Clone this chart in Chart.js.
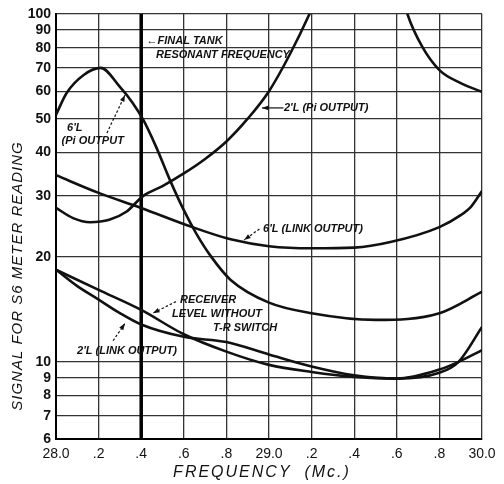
<!DOCTYPE html>
<html>
<head>
<meta charset="utf-8">
<script src="https://cdn.jsdelivr.net/npm/chart.js@4"></script>
<style>
  html, body { margin: 0; padding: 0; background: #fff; }
</style>
</head>
<body>
<canvas id="chart" width="504" height="484"></canvas>
<script>
// --- axis ticks ---
const freqTicks = [28.0, 28.2, 28.4, 28.6, 28.8, 29.0, 29.2, 29.4, 29.6, 29.8, 30.0];
const freqTickLabels = ['28.0', '.2', '.4', '.6', '.8', '29.0', '.2', '.4', '.6', '.8', '30.0'];
const signalTicks = [6, 7, 8, 9, 10, 20, 30, 40, 50, 60, 70, 80, 90, 100];

// --- curves (frequency Mc., signal) ---
const pi6Freq   = [28.0, 28.05, 28.13, 28.21, 28.30, 28.36, 28.41, 28.47, 28.535, 28.60, 28.66, 28.73, 28.82, 29.0, 29.2, 29.5, 29.8, 30.0];
const pi6Signal = [51.3, 59.3, 66.8, 70.0, 61.7, 55.5, 49.6, 41.5, 33.3, 27.3, 23.3, 20.0, 17.2, 14.8, 13.8, 13.2, 13.8, 15.9];

const pi2Freq   = [28.0, 28.08, 28.16, 28.25, 28.33, 28.41, 28.5, 28.6, 28.7, 28.8, 28.9, 29.0, 29.1, 29.19, 29.24];
const pi2Signal = [27.7, 25.9, 25.2, 25.6, 27.0, 30.0, 32.0, 34.8, 38.3, 43.0, 50.0, 60.0, 77.0, 100, 118];

const pi2HighFreq   = [29.62, 29.65, 29.72, 29.80, 29.90, 30.0];
const pi2HighSignal = [118, 100, 80.4, 69.0, 63.3, 59.7];

const link6Freq   = [28.0, 28.2, 28.4, 28.64, 28.82, 29.0, 29.2, 29.4, 29.57, 29.8, 29.9, 29.95, 30.0];
const link6Signal = [34.4, 30.6, 27.7, 24.4, 22.5, 21.5, 21.2, 21.3, 22.1, 24.4, 26.4, 28.0, 31.0];

const rcvFreq   = [28.0, 28.2, 28.4, 28.6, 28.8, 29.0, 29.2, 29.4, 29.6, 29.8, 29.89, 30.0];
const rcvSignal = [18.4, 16.1, 14.1, 12.0, 10.7, 9.8, 9.35, 9.05, 8.95, 9.5, 10.0, 10.8];

const link2Freq   = [28.0, 28.1, 28.2, 28.3, 28.4, 28.6, 28.8, 29.0, 29.2, 29.4, 29.6, 29.8, 29.89, 30.0];
const link2Signal = [18.4, 16.5, 15.1, 13.8, 12.8, 11.8, 11.4, 10.5, 9.7, 9.15, 8.95, 9.3, 10.0, 12.6];

const resonantFreq = 28.4;

function pts(xs, ys) {
    return xs.map((x, i) => ({ x: x, y: ys[i] }));
}

function curve(data) {
    return {
        data: data,
        borderColor: '#111',
        borderWidth: 2.6,
        pointRadius: 0,
        fill: false,
        tension: 0.4,
        cubicInterpolationMode: 'monotone'
    };
}

// --- labels drawn on the plot (data coordinates) ---
const FONT = 'Liberation Sans';
const notes = [
    { text: '\u2190FINAL TANK',       x: 28.425, y: 83.5 },
    { text: 'RESONANT FREQUENCY',     x: 28.47,  y: 76 },
    { text: "6'L",                    x: 28.052, y: 47 },
    { text: '(Pi OUTPUT',             x: 28.026, y: 43.1 },
    { text: "2'L (Pi OUTPUT)",        x: 29.07,  y: 53.7 },
    { text: "6'L (LINK OUTPUT)",      x: 28.972, y: 24.1 },
    { text: 'RECEIVER',               x: 28.582, y: 15.1 },
    { text: 'LEVEL WITHOUT',          x: 28.545, y: 13.73 },
    { text: 'T-R SWITCH',             x: 28.737, y: 12.5 },
    { text: "2'L (LINK OUTPUT)",      x: 28.099, y: 10.74 }
];
const arrows = [
    { from: [28.239, 45.5], to: [28.324, 58.5], dashed: true },
    { from: [29.068, 53.7], to: [28.967, 53.7], dashed: false },
    { from: [28.955, 24.1], to: [28.883, 22.4], dashed: true },
    { from: [28.563, 14.9], to: [28.455, 13.8], dashed: true },
    { from: [28.268, 11.5], to: [28.324, 12.9], dashed: true }
];

const decorPlugin = {
    id: 'decor',
    afterDatasetsDraw(chart) {
        const ctx = chart.ctx;
        const xs = chart.scales.x, ys = chart.scales.y;
        ctx.save();
        ctx.fillStyle = '#111';
        ctx.strokeStyle = '#111';
        ctx.font = 'italic bold 11px ' + FONT;
        ctx.textBaseline = 'middle';
        ctx.textAlign = 'left';
        notes.forEach(n => {
            ctx.fillText(n.text, xs.getPixelForValue(n.x), ys.getPixelForValue(n.y));
        });

        arrows.forEach(a => {
            const x1 = xs.getPixelForValue(a.from[0]), y1 = ys.getPixelForValue(a.from[1]);
            const x2 = xs.getPixelForValue(a.to[0]), y2 = ys.getPixelForValue(a.to[1]);
            ctx.lineWidth = 1.2;
            ctx.setLineDash(a.dashed ? [2.5, 2] : []);
            ctx.beginPath();
            ctx.moveTo(x1, y1);
            ctx.lineTo(x2, y2);
            ctx.stroke();
            ctx.setLineDash([]);
            const ang = Math.atan2(y2 - y1, x2 - x1);
            ctx.beginPath();
            ctx.moveTo(x2, y2);
            ctx.lineTo(x2 - 7 * Math.cos(ang - 0.35), y2 - 7 * Math.sin(ang - 0.35));
            ctx.lineTo(x2 - 7 * Math.cos(ang + 0.35), y2 - 7 * Math.sin(ang + 0.35));
            ctx.closePath();
            ctx.fill();
        });

        // axis titles
        ctx.font = 'italic 15px ' + FONT;
        ctx.textAlign = 'center';
        ctx.letterSpacing = '1px';
        ctx.save();
        ctx.translate(18, 276);
        ctx.rotate(-Math.PI / 2);
        ctx.fillText('SIGNAL FOR S6 METER READING', 0, 0);
        ctx.restore();
        ctx.font = 'italic 16px ' + FONT;
        ctx.letterSpacing = '2px';
        ctx.fillText('FREQUENCY  (Mc.)', 262, 473);
        ctx.restore();
    }
};

new Chart(document.getElementById('chart').getContext('2d'), {
    type: 'line',
    data: {
        datasets: [
            curve(pts(pi6Freq, pi6Signal)),
            curve(pts(pi2Freq, pi2Signal)),
            curve(pts(pi2HighFreq, pi2HighSignal)),
            curve(pts(link6Freq, link6Signal)),
            curve(pts(rcvFreq, rcvSignal)),
            curve(pts(link2Freq, link2Signal)),
            {
                data: [{ x: resonantFreq, y: signalTicks[0] }, { x: resonantFreq, y: signalTicks[signalTicks.length - 1] }],
                borderColor: '#000',
                borderWidth: 3.5,
                pointRadius: 0,
                tension: 0
            }
        ]
    },
    options: {
        responsive: false,
        devicePixelRatio: 1,
        animation: false,
        layout: { padding: { top: 14, right: 22, left: 0, bottom: 0 } },
        plugins: { legend: { display: false }, tooltip: { enabled: false } },
        scales: {
            x: {
                type: 'linear',
                min: 28.0,
                max: 30.0,
                afterBuildTicks: s => { s.ticks = freqTicks.map(v => ({ value: v })); },
                afterFit: s => { s.height = 45; },
                grid: { color: '#333', lineWidth: 1.3, drawTicks: false },
                border: { color: '#000', width: 2 },
                ticks: {
                    autoSkip: false,
                    maxRotation: 0,
                    padding: 7,
                    color: '#111',
                    font: { family: FONT, size: 14 },
                    callback: (v, i) => freqTickLabels[i]
                }
            },
            y: {
                type: 'logarithmic',
                min: 6,
                max: 100,
                afterBuildTicks: s => { s.ticks = signalTicks.map(v => ({ value: v })); },
                afterFit: s => { s.width = 56; },
                grid: { color: '#333', lineWidth: 1.3, drawTicks: false },
                border: { color: '#000', width: 2 },
                ticks: {
                    autoSkip: false,
                    padding: 5,
                    color: '#111',
                    font: { family: FONT, size: 14, weight: 'bold' },
                    callback: v => String(v)
                }
            }
        }
    },
    plugins: [decorPlugin]
});
</script>
</body>
</html>
